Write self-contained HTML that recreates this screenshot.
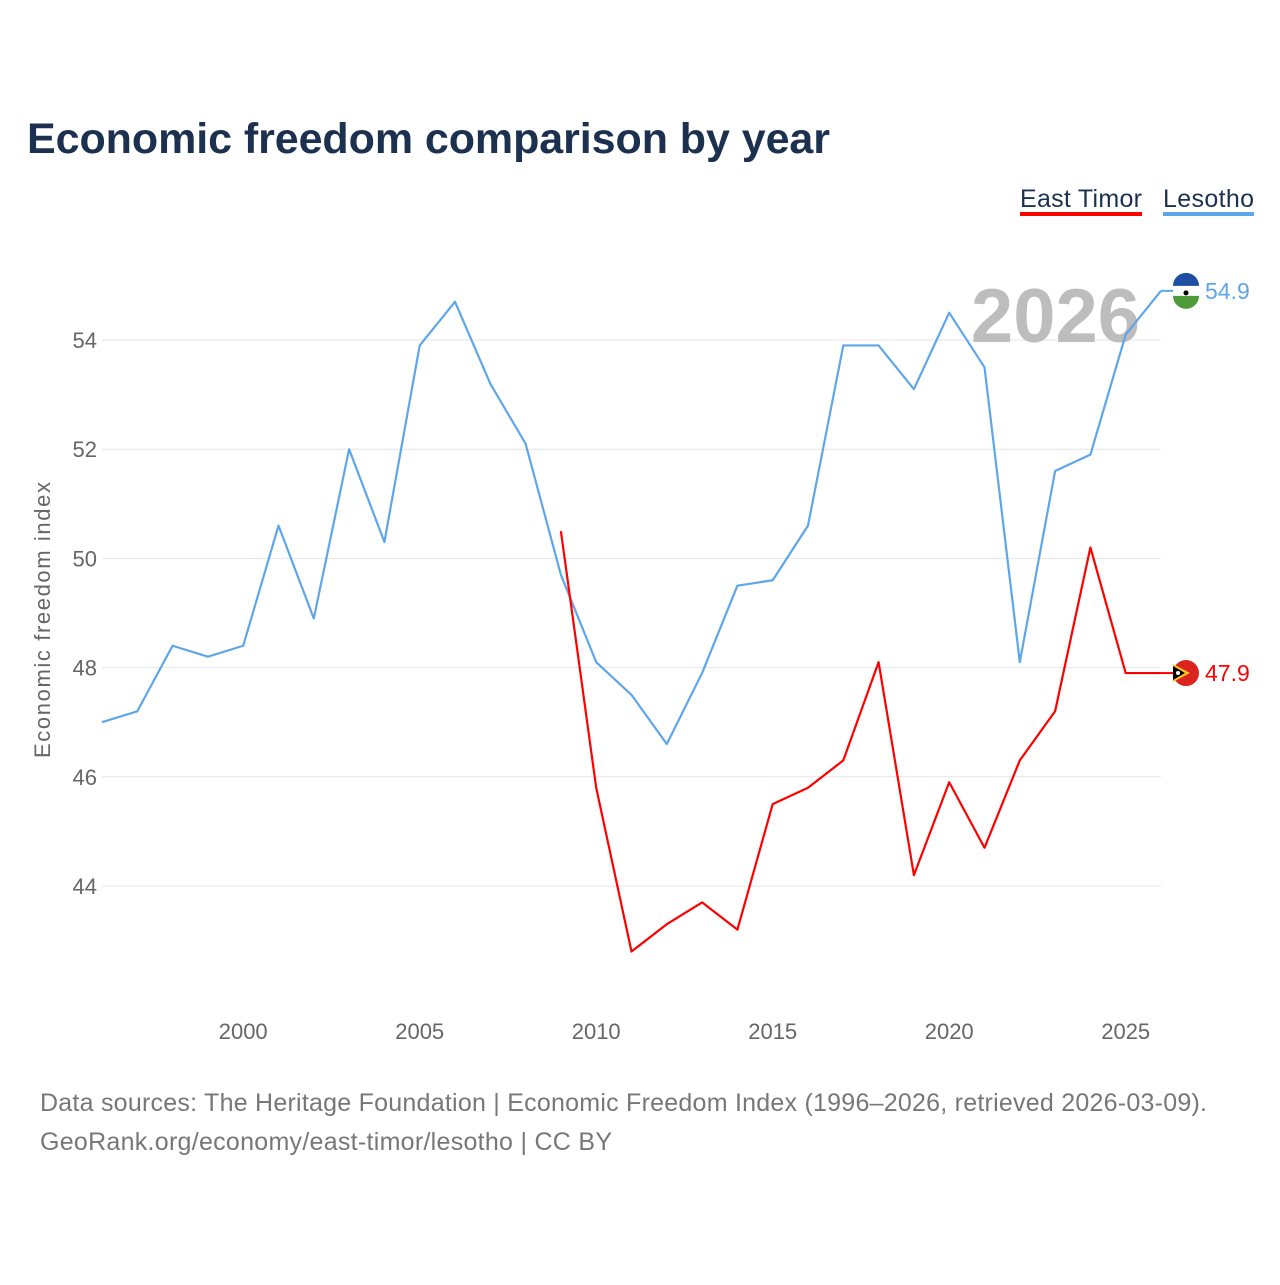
<!DOCTYPE html>
<html><head><meta charset="utf-8"><style>
body{margin:0;background:#fff;font-family:"Liberation Sans",sans-serif}
</style></head><body>
<svg width="1280" height="1280" viewBox="0 0 1280 1280">
<text x="27" y="153" font-size="43" font-weight="bold" fill="#1c3050" textLength="803">Economic freedom comparison by year</text>
<g><text x="1020" y="207" font-size="25" fill="#1c3050" textLength="122">East Timor</text><rect x="1020" y="212" width="122" height="4" fill="#ff0000"/></g>
<g><text x="1163" y="207" font-size="25" fill="#1c3050" textLength="91">Lesotho</text><rect x="1163" y="212" width="91" height="4" fill="#5ea6ea"/></g>
<g id="grid"></g>
<text x="1140" y="342" font-size="76" font-weight="bold" fill="#bdbdbd" text-anchor="end">2026</text>
<g id="marks"></g>
<text transform="translate(50,620) rotate(-90)" font-size="22" fill="#666" text-anchor="middle" textLength="276">Economic freedom index</text>
<text x="40" y="1111" font-size="25" fill="#777" textLength="1167">Data sources: The Heritage Foundation | Economic Freedom Index (1996–2026, retrieved 2026-03-09).</text>
<text x="40" y="1150" font-size="25" fill="#777" textLength="572">GeoRank.org/economy/east-timor/lesotho | CC BY</text>
</svg>
<script>
const lesothoYears=[1996,1997,1998,1999,2000,2001,2002,2003,2004,2005,2006,2007,2008,2009,2010,2011,2012,2013,2014,2015,2016,2017,2018,2019,2020,2021,2022,2023,2024,2025,2026];
const lesothoValues=[47.0,47.2,48.4,48.2,48.4,50.6,48.9,52.0,50.3,53.9,54.7,53.2,52.1,49.7,48.1,47.5,46.6,47.9,49.5,49.6,50.6,53.9,53.9,53.1,54.5,53.5,48.1,51.6,51.9,54.1,54.9];
const timorYears=[2009,2010,2011,2012,2013,2014,2015,2016,2017,2018,2019,2020,2021,2022,2023,2024,2025,2026];
const timorValues=[50.5,45.8,42.8,43.3,43.7,43.2,45.5,45.8,46.3,48.1,44.2,45.9,44.7,46.3,47.2,50.2,47.9,47.9];
const yTicks=[44,46,48,50,52,54];
const xTicks=[2000,2005,2010,2015,2020,2025];
const NS="http://www.w3.org/2000/svg";
const X=y=>102+(y-1996)*(1161-102)/30;
const Y=v=>340+(54-v)*54.6;
function el(t,a,p){const e=document.createElementNS(NS,t);for(const k in a)e.setAttribute(k,a[k]);p.appendChild(e);return e;}
const grid=document.getElementById('grid'),marks=document.getElementById('marks');
yTicks.forEach(t=>{
 const l=el('line',{x1:102,x2:1161,y1:Y(t),y2:Y(t),stroke:'#e6e6e6','stroke-width':1},grid);
 
 
 const tx=el('text',{x:97,y:Y(t)+8,'font-size':22,fill:'#666','text-anchor':'end'},grid);tx.textContent=t;
 
 
});
xTicks.forEach(t=>{
 const tx=el('text',{x:X(t),y:1039,'font-size':22,fill:'#666','text-anchor':'middle'},grid);tx.textContent=t;
 
 
});
function line(xs,vs,c,name,flag){
 const p=el('polyline',{points:xs.map((x,i)=>X(x)+','+Y(vs[i])).join(' '),fill:'none',stroke:c,'stroke-width':2.2,'stroke-linejoin':'round'},marks);
 
 
 const lx=xs[xs.length-1],lv=vs[vs.length-1];
 const cx=X(lx)+25,cy=Y(lv);
 el('line',{x1:X(lx),x2:X(lx)+12,y1:cy,y2:cy,stroke:c,'stroke-width':2},marks);
 const g=el('g',{},marks);
 
 
 if(flag==='ls'){
  el('circle',{cx:cx,cy:cy,r:13,fill:'#fff'},g);
  el('path',{d:`M${cx-13},${cy-5} A13,13 0 0 1 ${cx+13},${cy-5} Z`,fill:'#1f4fa3'},g);
  el('path',{d:`M${cx-13},${cy+5} A13,13 0 0 0 ${cx+13},${cy+5} Z`,fill:'#4f9a3a'},g);
  el('circle',{cx:cx,cy:cy+2,r:2.5,fill:'#000'},g);
 }else{
  el('circle',{cx:cx,cy:cy,r:13,fill:'#dc241f'},g);
  el('path',{d:`M${cx-13},${cy-9} L${cx+4},${cy} L${cx-13},${cy+9} Z`,fill:'#ffc726'},g);
  el('path',{d:`M${cx-13},${cy-7} L${cx-1},${cy} L${cx-13},${cy+7} Z`,fill:'#000'},g);
  el('circle',{cx:cx-8,cy:cy,r:2,fill:'#fff'},g);
 }
 const t=el('text',{x:X(lx)+44,y:Y(lv)+8,'font-size':23,fill:c},marks);t.textContent=lv.toFixed(1);
 
 
}
line(lesothoYears,lesothoValues,'#5ea6ea','lesotho-line','ls');
line(timorYears,timorValues,'#ff0000','east-timor-line','tl');
</script>
</body></html>
